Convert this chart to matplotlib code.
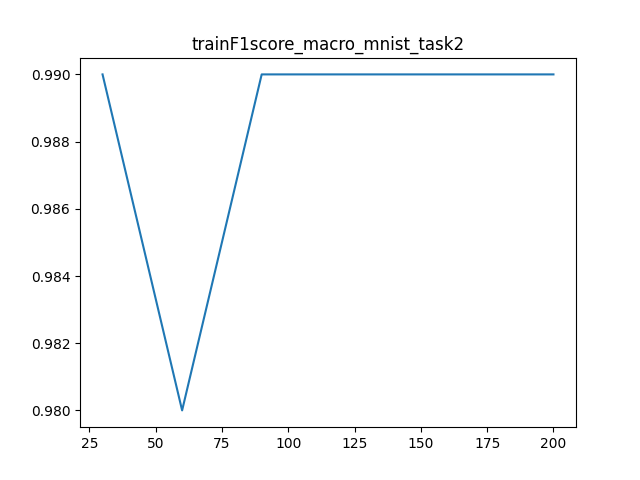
import matplotlib
matplotlib.use("Agg")
import matplotlib.pyplot as plt

# epochs and train macro F1
epochs = [30, 60, 90, 120, 150, 180, 200]
f1_macro = [0.99, 0.98, 0.99, 0.99, 0.99, 0.99, 0.99]

fig, ax = plt.subplots(figsize=(6.4, 4.8), dpi=100)
ax.plot(epochs, f1_macro)
ax.set_title("trainF1score_macro_mnist_task2")
fig.savefig("out.png")
